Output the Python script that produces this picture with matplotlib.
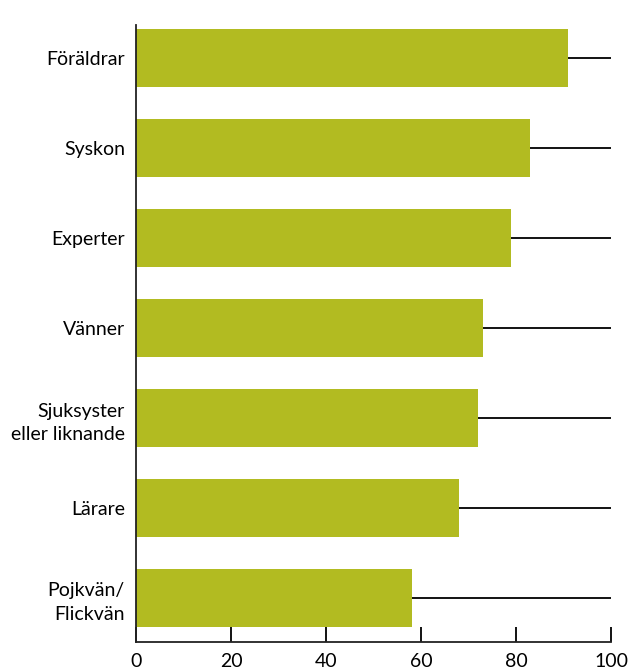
import matplotlib
matplotlib.use("Agg")
import matplotlib.pyplot as plt
import numpy as np

categories = ["Föräldrar", "Syskon", "Experter", "Vänner",
              "Sjuksyster\neller liknande", "Lärare", "Pojkvän/\nFlickvän"]
values = [91, 83, 79, 73, 72, 68, 58]
xticks = [0, 20, 40, 60, 80, 100]

plt.rcParams["font.family"] = ["Lato", "DejaVu Sans"]

fig = plt.figure(figsize=(6.3, 6.69), dpi=100)
ax = fig.add_axes([136 / 630, 1 - 642 / 669, 475 / 630, 617 / 669])

y = np.arange(len(categories))
ax.hlines(y, 0, 100, color="black", lw=1.3, zorder=1)
ax.barh(y, values, height=0.644, color="#b2bb21", zorder=2)

ax.set_xlim(0, 100)
ax.set_ylim(len(categories) - 1 + 0.489, -0.367)
ax.set_xticks(xticks)
ax.set_xticklabels([str(t) for t in xticks], fontsize=14)
ax.set_yticks(y)
ax.set_yticklabels(categories, fontsize=14, linespacing=1.45)
ax.tick_params(axis="x", direction="in", length=11, width=1.3, pad=8, colors="black")
ax.tick_params(axis="y", length=0, pad=8)
for s in ["top", "right"]:
    ax.spines[s].set_visible(False)
for s in ["left", "bottom"]:
    ax.spines[s].set_linewidth(1.3)
    ax.spines[s].set_color("#222222")

fig.savefig("out.png", dpi=100)
